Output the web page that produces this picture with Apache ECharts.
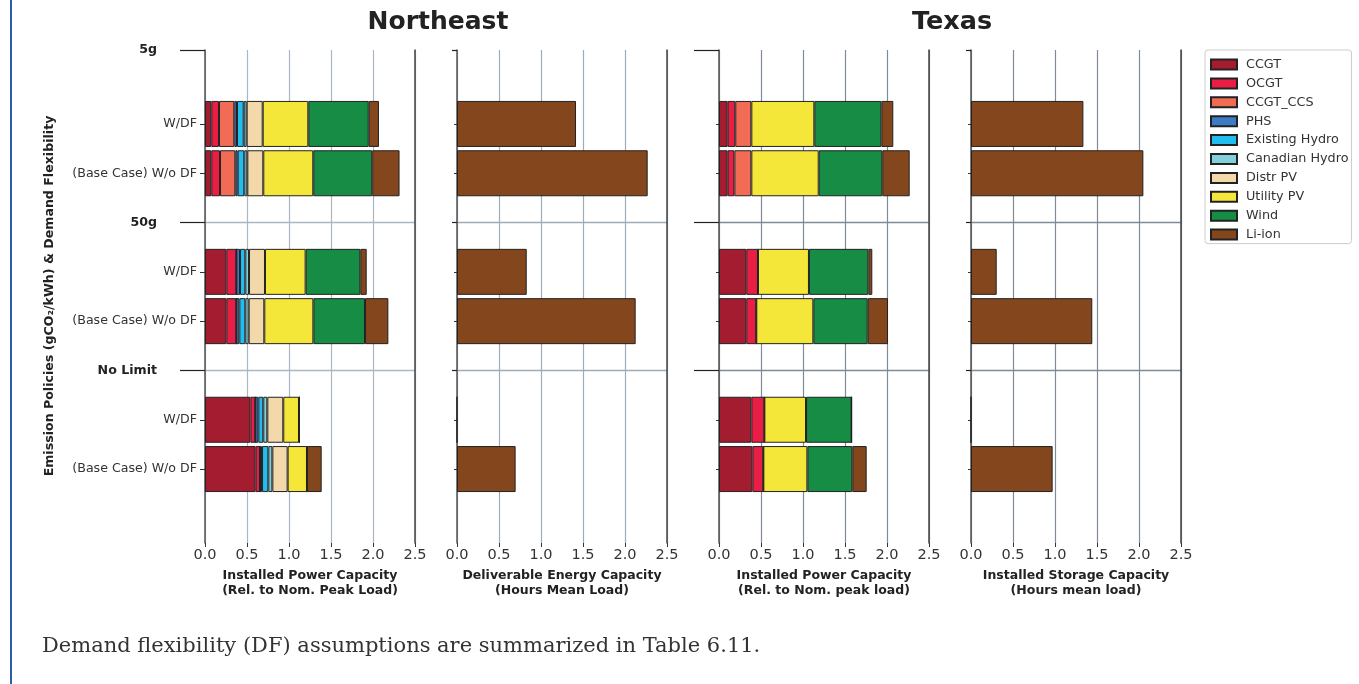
<!DOCTYPE html>
<html>
<head>
<meta charset="utf-8">
<script src="https://cdn.jsdelivr.net/npm/echarts@6.0.0/dist/echarts.min.js"></script>
<style>
html,body{margin:0;padding:0;background:#fff;}
#chart{width:1359px;height:684px;}
</style>
</head>
<body>
<div id="chart"></div>
<script>
// ---------- data ----------
const groups = ['5g', '50g', 'No Limit'];
const rows = ['W/DF', '(Base Case) W/o DF'];
const techs = ['CCGT', 'OCGT', 'CCGT_CCS', 'PHS', 'Existing Hydro', 'Canadian Hydro', 'Distr PV', 'Utility PV', 'Wind', 'Li-ion'];
const xTickLabels = ['0.0', '0.5', '1.0', '1.5', '2.0', '2.5'];
// order of cases: 5g W/DF, 5g Base, 50g W/DF, 50g Base, NoLimit W/DF, NoLimit Base
const neCCGT      = [0.075, 0.075, 0.254, 0.254, 0.540, 0.603];
const neOCGT      = [0.092, 0.104, 0.119, 0.119, 0.059, 0.052];
const neCCGTCCS   = [0.182, 0.182, 0.000, 0.000, 0.000, 0.000];
const nePHS       = [0.032, 0.028, 0.044, 0.036, 0.036, 0.024];
const neExHydro   = [0.080, 0.079, 0.063, 0.071, 0.059, 0.075];
const neCanHydro  = [0.035, 0.036, 0.044, 0.040, 0.048, 0.048];
const neDistrPV   = [0.191, 0.190, 0.190, 0.186, 0.190, 0.182];
const neUtilityPV = [0.543, 0.595, 0.484, 0.584, 0.187, 0.230];
const neWind      = [0.719, 0.702, 0.651, 0.615, 0.005, 0.000];
const neLiion     = [0.122, 0.325, 0.076, 0.278, 0.000, 0.175];
const neEnergy    = [1.417, 2.270, 0.830, 2.127, 0.000, 0.698];

const txCCGT      = [0.103, 0.103, 0.325, 0.325, 0.385, 0.397];
const txOCGT      = [0.091, 0.080, 0.139, 0.119, 0.155, 0.131];
const txCCGTCCS   = [0.191, 0.202, 0.000, 0.000, 0.000, 0.000];
const txUtilityPV = [0.750, 0.802, 0.607, 0.679, 0.496, 0.524];
const txWind      = [0.798, 0.757, 0.707, 0.647, 0.543, 0.535];
const txLiion     = [0.142, 0.326, 0.047, 0.242, 0.000, 0.171];
const txStorage   = [1.338, 2.052, 0.306, 1.444, 0.000, 0.972];

const techColors = {
  'CCGT': '#a41c30', 'OCGT': '#e81e45', 'CCGT_CCS': '#f26c55', 'PHS': '#3b7cc4',
  'Existing Hydro': '#22bdee', 'Canadian Hydro': '#84d0da', 'Distr PV': '#f3d8aa',
  'Utility PV': '#f5e63a', 'Wind': '#168c45', 'Li-ion': '#84461c'
};

// ---------- layout ----------
const NSLOT = 21;
const rowSlots = [3, 5, 9, 11, 15, 17];
const groupSlots = [0, 7, 13];
const slotCats = Array.from({length: NSLOT}, (_, i) => String(i));
const rowLabelAt = {}, groupLabelAt = {};
rowSlots.forEach((s, i) => rowLabelAt[s] = rows[i % 2]);
groupSlots.forEach((s, i) => groupLabelAt[s] = groups[i]);

const FONT = "'DejaVu Sans', sans-serif";
const panels = [
  {left: 205, grid: '#aab6c3', xname: 'Installed Power Capacity\n(Rel. to Nom. Peak Load)', labels: true, longTick: true},
  {left: 457, grid: '#9eabb9', xname: 'Deliverable Energy Capacity\n(Hours Mean Load)', labels: false, longTick: false},
  {left: 719, grid: '#7f8b98', xname: 'Installed Power Capacity\n(Rel. to Nom. peak load)', labels: false, longTick: true},
  {left: 971, grid: '#7f8b98', xname: 'Installed Storage Capacity\n(Hours mean load)', labels: false, longTick: false}
];

const grids = [], xAxes = [], yAxes = [], series = [];
panels.forEach((p, k) => {
  grids.push({left: p.left, top: 50, width: 210, height: 493});
  xAxes.push({
    type: 'value', gridIndex: k, min: 0, max: 2.5, interval: 0.5,
    axisLine: {show: false},
    axisTick: {show: true, length: 4, lineStyle: {color: '#333'}},
    axisLabel: {fontFamily: FONT, fontSize: 14.5, color: '#333', margin: 5,
      formatter: (v) => xTickLabels[Math.round(v / 0.5)]},
    splitLine: {show: true, lineStyle: {color: p.grid, width: 1.2}},
    name: p.xname, nameLocation: 'middle', nameGap: 24,
    nameTextStyle: {fontFamily: FONT, fontWeight: 'bold', fontSize: 12.5, color: '#222', lineHeight: 15}
  });
  // row axis
  yAxes.push({
    type: 'category', gridIndex: k, data: slotCats, inverse: true, boundaryGap: false, position: 'left',
    axisLine: {show: true, lineStyle: {color: '#555', width: 1.5}},
    axisTick: {show: true, length: p.labels ? 5 : 3, interval: (i) => rowSlots.includes(i), lineStyle: {color: '#333'}},
    axisLabel: {show: p.labels, interval: (i) => rowSlots.includes(i), fontFamily: FONT, fontSize: 12.6, color: '#333', margin: 8,
      formatter: (v, i) => rowLabelAt[i] || ''},
    splitLine: {show: false}
  });
  // group axis
  yAxes.push({
    type: 'category', gridIndex: k, data: slotCats, inverse: true, boundaryGap: false, position: 'left', offset: 0,
    axisLine: {show: false},
    axisTick: {show: true, length: p.longTick ? 25 : 5, interval: (i) => groupSlots.includes(i), lineStyle: {color: '#222', width: 1.2}},
    axisLabel: {show: p.labels, interval: (i) => groupSlots.includes(i), fontFamily: FONT, fontWeight: 'bold', fontSize: 12.6, color: '#222', margin: 48,
      formatter: (v, i) => groupLabelAt[i] || ''},
    splitLine: {show: true, interval: (i) => i === 7 || i === 13, lineStyle: {color: p.grid, width: 1.3}}
  });
  // right spine
  yAxes.push({
    type: 'category', gridIndex: k, data: slotCats, inverse: true, boundaryGap: false, position: 'right',
    axisLine: {show: true, lineStyle: {color: '#444', width: 1.5}},
    axisTick: {show: false}, axisLabel: {show: false}, splitLine: {show: false}
  });
});

function toSlots(vals) {
  const arr = new Array(NSLOT).fill('-');
  rowSlots.forEach((s, i) => arr[s] = vals[i]);
  return arr;
}
function addBar(name, vals, panel, stack) {
  series.push({
    type: 'bar', name: name, stack: stack, xAxisIndex: panel, yAxisIndex: panel * 3,
    barWidth: 46, data: toSlots(vals),
    itemStyle: {color: techColors[name], borderColor: '#222', borderWidth: 1},
    emphasis: {disabled: true}
  });
}
const neSets = [neCCGT, neOCGT, neCCGTCCS, nePHS, neExHydro, neCanHydro, neDistrPV, neUtilityPV, neWind, neLiion];
techs.forEach((t, i) => addBar(t, neSets[i], 0, 'ne'));
addBar('Li-ion', neEnergy, 1, 'nee');
const txNames = ['CCGT', 'OCGT', 'CCGT_CCS', 'Utility PV', 'Wind', 'Li-ion'];
const txSets = [txCCGT, txOCGT, txCCGTCCS, txUtilityPV, txWind, txLiion];
txNames.forEach((t, i) => addBar(t, txSets[i], 2, 'tx'));
addBar('Li-ion', txStorage, 3, 'txs');

const chart = echarts.init(document.getElementById('chart'), null, {renderer: 'canvas'});
chart.setOption({
  animation: false,
  backgroundColor: '#fff',
  grid: grids, xAxis: xAxes, yAxis: yAxes, series: series,
  legend: {
    data: techs, orient: 'vertical', left: 1205, top: 50,
    selectedMode: false, icon: 'rect',
    itemWidth: 26, itemHeight: 10, itemGap: 4.9,
    padding: [7.5, 3, 2, 5],
    borderColor: '#ccc', borderWidth: 1, borderRadius: 3,
    textStyle: {fontFamily: FONT, fontSize: 12.8, color: '#333', lineHeight: 14, padding: [0, 0, 0, 4]}
  },
  graphic: [
    {type: 'line', shape: {x1: 11, y1: 0, x2: 11, y2: 684}, style: {stroke: '#2a5ea8', lineWidth: 2}},
    {type: 'text', x: 438, y: 22, style: {text: 'Northeast', font: "bold 25px 'DejaVu Sans'", fill: '#222', align: 'center', verticalAlign: 'middle', textAlign: 'center', textVerticalAlign: 'middle'}},
    {type: 'text', x: 952, y: 22, style: {text: 'Texas', font: "bold 25.5px 'DejaVu Sans'", fill: '#222', align: 'center', verticalAlign: 'middle', textAlign: 'center', textVerticalAlign: 'middle'}},
    {type: 'text', x: 50, y: 296, rotation: Math.PI / 2, style: {text: 'Emission Policies (gCO₂/kWh) & Demand Flexibility', font: "bold 12.6px 'DejaVu Sans'", fill: '#222', align: 'center', verticalAlign: 'middle', textAlign: 'center', textVerticalAlign: 'middle'}},
    {type: 'text', x: 42, y: 647, style: {text: 'Demand flexibility (DF) assumptions are summarized in Table 6.11.', font: "21px 'DejaVu Serif'", fill: '#333', align: 'left', verticalAlign: 'middle', textAlign: 'left', textVerticalAlign: 'middle'}}
  ]
});
</script>
</body>
</html>
